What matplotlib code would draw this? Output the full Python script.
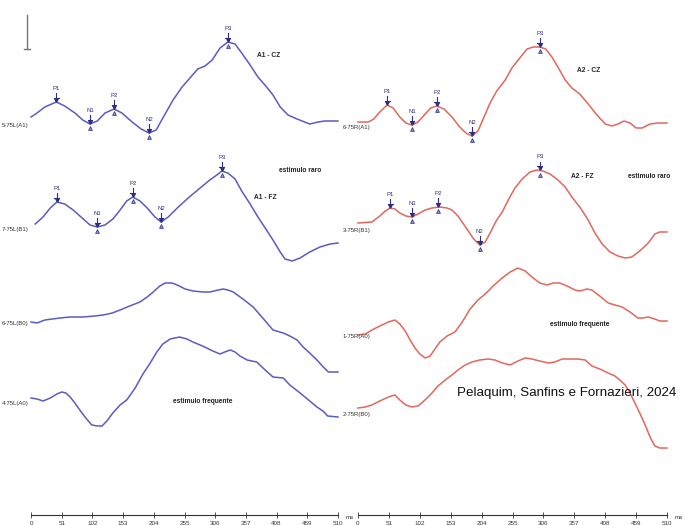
import numpy as np
import matplotlib
matplotlib.use("Agg")
from matplotlib import pyplot as plt

plt.rcParams['font.family'] = ['Liberation Sans', 'DejaVu Sans']

# latency axis (ms)
tick_ms = [0, 51, 102, 153, 204, 255, 306, 357, 408, 459, 510]

# ---- left ear (blue) ----
l1_ms = [0, 10, 23, 42, 56, 73, 86, 98, 110, 123, 138, 151, 168, 183, 196, 208, 219, 236, 251, 264,
         277, 289, 301, 314, 327, 339, 350, 364, 377, 390, 402, 414, 427, 442, 463, 477, 488, 510]
l1_amp = [1.6, 2.4, 3.6, 4.6, 3.8, 2.4, 1.0, 0.2, 0.8, 2.4, 3.2, 2.4, 0.6, -0.8, -1.6, -1.0, 1.4, 5.0, 7.6, 9.4,
          11.2, 11.8, 13.0, 15.4, 16.6, 16.2, 14.4, 12.0, 9.6, 7.8, 6.0, 3.6, 2.0, 1.2, 0.2, 0.6, 0.8, 0.8]

l2_ms = [7, 20, 32, 43, 56, 70, 85, 98, 110, 123, 136, 148, 159, 169, 181, 193, 206, 216, 228, 243,
         261, 281, 297, 311, 317, 327, 339, 350, 364, 377, 389, 402, 414, 422, 434, 447, 463, 480, 497, 510]
l2_amp = [1.0, 2.4, 4.2, 5.4, 5.0, 3.8, 2.2, 0.8, 0.4, 0.8, 2.0, 3.8, 5.6, 6.4, 5.6, 4.2, 2.4, 1.4, 2.4, 4.2,
          6.2, 8.2, 9.8, 11.0, 11.6, 11.2, 10.0, 7.6, 5.0, 2.4, 0.2, -2.2, -4.6, -6.0, -6.4, -5.8, -4.6, -3.6, -3.0, -2.8]

l3_ms = [0, 10, 23, 48, 65, 86, 106, 120, 135, 148, 164, 181, 193, 203, 214, 223, 234, 243, 256, 269,
         286, 297, 311, 319, 327, 336, 352, 369, 385, 402, 419, 430, 442, 452, 463, 475, 484, 494, 510]
l3_amp = [0.2, 0.0, 0.6, 1.0, 1.2, 1.2, 1.4, 1.6, 2.0, 2.6, 3.4, 4.2, 5.2, 6.2, 7.4, 8.0, 8.0, 7.6, 6.8, 6.4,
          6.2, 6.2, 6.6, 6.8, 6.6, 6.2, 4.8, 3.2, 1.0, -1.4, -2.0, -2.6, -3.4, -4.8, -6.0, -7.4, -8.6, -9.8, -9.8]

l4_ms = [0, 10, 20, 32, 43, 51, 58, 65, 73, 81, 91, 101, 110, 118, 126, 136, 148, 159, 173, 186,
         198, 209, 219, 231, 247, 259, 269, 281, 292, 302, 314, 322, 331, 339, 347, 359, 375, 389, 402, 419,
         430, 447, 463, 475, 485, 493, 510]
l4_amp = [1.0, 0.8, 0.4, 1.0, 1.8, 2.2, 2.0, 1.2, 0.0, -1.4, -3.0, -4.4, -4.6, -4.6, -3.6, -2.0, -0.4, 0.6, 3.0, 5.8,
          8.0, 10.2, 11.8, 12.8, 13.2, 12.8, 12.2, 11.6, 11.0, 10.4, 9.8, 10.2, 10.6, 10.2, 9.4, 8.6, 8.2, 6.6, 5.2, 5.0,
          3.6, 2.0, 0.4, -0.8, -1.6, -2.6, -2.8]

# ---- right ear (red) ----
r1_ms = [0, 17, 26, 36, 48, 58, 69, 79, 89, 99, 111, 120, 130, 142, 155, 168, 178, 188, 198, 208,
         218, 229, 243, 254, 267, 279, 289, 300, 310, 320, 330, 342, 353, 366, 380, 393, 408, 419, 429, 439,
         449, 459, 469, 482, 495, 510]
r1_amp = [1.0, 1.0, 1.6, 3.0, 4.4, 3.8, 2.0, 0.8, 0.4, 1.0, 2.6, 3.8, 4.2, 3.6, 2.0, 0.0, -1.2, -1.8, -0.8, 2.0,
          4.8, 7.2, 9.4, 11.8, 13.8, 15.6, 16.0, 16.0, 15.6, 14.0, 12.0, 9.4, 7.8, 6.6, 4.6, 2.6, 0.6, 0.2, 0.6, 1.2,
          0.8, -0.2, -0.2, 0.6, 0.8, 0.8]

r2_ms = [0, 23, 36, 45, 53, 61, 69, 79, 89, 99, 111, 122, 135, 147, 155, 165, 173, 182, 191, 201,
         210, 218, 228, 238, 248, 259, 271, 284, 295, 305, 317, 330, 342, 353, 366, 380, 391, 403, 416, 429,
         441, 452, 465, 479, 490, 498, 510]
r2_amp = [1.4, 1.6, 2.8, 3.8, 4.4, 4.2, 3.4, 2.8, 2.6, 3.2, 4.0, 4.4, 4.6, 4.4, 4.0, 2.8, 1.4, -0.2, -1.8, -3.0,
          -2.4, -0.6, 1.8, 3.6, 6.0, 8.4, 10.2, 11.6, 12.0, 11.8, 11.2, 10.0, 8.6, 6.6, 4.6, 2.0, -0.6, -2.8, -4.4, -5.2,
          -5.6, -5.4, -4.2, -2.6, -0.8, -0.4, -0.4]

r3_ms = [0, 12, 23, 36, 50, 61, 69, 78, 86, 94, 102, 111, 119, 127, 135, 147, 160, 172, 185, 198,
         210, 223, 238, 251, 264, 276, 287, 300, 312, 322, 333, 345, 358, 366, 378, 386, 399, 413, 424, 436,
         449, 462, 470, 479, 490, 498, 510]
r3_amp = [0.2, 0.4, 1.2, 2.0, 2.8, 3.2, 2.4, 1.0, -0.8, -2.4, -3.6, -4.4, -4.0, -2.6, -1.2, 0.0, 0.8, 2.8, 5.4, 7.2,
          8.4, 10.0, 11.6, 12.8, 13.6, 13.0, 11.8, 10.6, 10.2, 10.6, 10.6, 10.0, 9.2, 9.0, 9.4, 9.2, 8.0, 6.6, 6.2, 5.8,
          4.8, 3.6, 3.6, 3.8, 3.4, 3.0, 3.0]

r4_ms = [0, 12, 23, 36, 50, 61, 69, 79, 89, 99, 107, 119, 132, 144, 155, 165, 177, 188, 201, 215,
         226, 238, 251, 264, 276, 287, 300, 314, 325, 337, 350, 363, 375, 386, 399, 413, 424, 432, 441, 449,
         457, 465, 474, 482, 490, 498, 510]
r4_amp = [1.2, 1.4, 1.8, 2.6, 3.4, 3.8, 2.8, 1.8, 1.4, 1.6, 2.4, 3.8, 5.6, 6.8, 7.8, 8.8, 9.8, 10.4, 10.8, 11.0,
          10.8, 10.2, 9.8, 10.6, 11.2, 11.0, 10.6, 10.2, 10.4, 11.0, 11.0, 11.0, 10.8, 9.6, 9.0, 8.2, 7.6, 6.8, 5.8, 4.2,
          2.2, 0.2, -2.2, -4.6, -6.4, -6.8, -6.8]

# peak markers
peak_names = ['P1', 'N1', 'P2', 'N2', 'P3']
l1_peaks = [42, 98, 138, 196, 327]
l2_peaks = [43, 110, 169, 216, 317]
r1_peaks = [48, 89, 130, 188, 300]
r2_peaks = [53, 89, 132, 201, 300]

left_labels = ['5-75L(A1)', '7-75L(B1)', '6-75L(B0)', '4-75L(A0)']
right_labels = ['6-75R(A1)', '3-75R(B1)', '1-75R(A0)', '2-75R(B0)']

W, H = 689, 525
PX = 5.0  # pixels per amplitude unit
BLUE = '#5b5bc4'
RED = '#e2675c'
NAVY = '#2c2f86'

fig = plt.figure(figsize=(W / 100, H / 100), dpi=100)
fig.patch.set_facecolor('white')


def make_panel(x0, x1):
    ax = fig.add_axes([x0 / W, 10 / H, (x1 - x0) / W, (H - 10) / H])
    ax.set_xlim(0, 510)
    ax.set_ylim(-(H - 10) / PX, 0)
    for s in ['top', 'left', 'right']:
        ax.spines[s].set_visible(False)
    ax.spines['bottom'].set_color('#333333')
    ax.spines['bottom'].set_linewidth(0.8)
    ax.set_yticks([])
    ax.set_xticks(tick_ms)
    ax.set_xticklabels([str(t) for t in tick_ms], fontsize=4.5, color='#333333')
    ax.tick_params(axis='x', direction='inout', length=4, width=0.6, pad=2, colors='#333333')
    ax.patch.set_alpha(0)
    ax.text(522, -(H - 10) / PX, 'ms', fontsize=4.5, color='#333333', va='top', clip_on=False)
    return ax


def draw_trace(ax, ms, amp, base, color, label, label_x):
    base_y = -base / PX
    ax.plot(ms, np.array(amp) + base_y, color=color, lw=1.1, clip_on=False, solid_joinstyle='round')
    ax.text(label_x, base_y, label, fontsize=4.3, color='#333333', va='center', ha='left', clip_on=False)


def draw_peaks(ax, ms, amp, base, lats):
    base_y = -base / PX
    for name, lat in zip(peak_names, lats):
        y = np.interp(lat, ms, amp) + base_y
        ax.text(lat, y + 14 / PX, name, fontsize=4.3, color=NAVY, ha='center', va='center')
        ax.plot([lat, lat], [y + 9 / PX, y + 2 / PX], color=NAVY, lw=0.8)
        ax.plot(lat, y + 2.5 / PX, marker='v', ms=2.5, color=NAVY, mec=NAVY)
        ax.plot([lat - 4, lat + 4], [y + 4.5 / PX] * 2, color=NAVY, lw=0.8)
        if name != 'P1':
            ax.plot(lat, y - 4 / PX, marker='^', ms=2.8, color=NAVY, mfc='#8c90c8', mec=NAVY, mew=0.5)


axl = make_panel(31, 338)
axr = make_panel(358, 667)

left_ms = [l1_ms, l2_ms, l3_ms, l4_ms]
left_amp = [l1_amp, l2_amp, l3_amp, l4_amp]
left_base = [125, 229, 323, 403]
for ms, amp, base, lab in zip(left_ms, left_amp, left_base, left_labels):
    draw_trace(axl, ms, amp, base, BLUE, lab, -48)
draw_peaks(axl, l1_ms, l1_amp, 125, l1_peaks)
draw_peaks(axl, l2_ms, l2_amp, 229, l2_peaks)

right_ms = [r1_ms, r2_ms, r3_ms, r4_ms]
right_amp = [r1_amp, r2_amp, r3_amp, r4_amp]
right_base = [127, 230, 336, 414]
for ms, amp, base, lab in zip(right_ms, right_amp, right_base, right_labels):
    draw_trace(axr, ms, amp, base, RED, lab, -25)
draw_peaks(axr, r1_ms, r1_amp, 127, r1_peaks)
draw_peaks(axr, r2_ms, r2_amp, 230, r2_peaks)

# scale bar
axl.plot([-6.6, -6.6], [-15 / PX, -49 / PX], color='#777777', lw=1.0, clip_on=False)
axl.plot([-11, -1.5], [-49 / PX, -49 / PX], color='#777777', lw=1.0, clip_on=False)

# annotations
txt = dict(fontsize=4.8, color='#222222', ha='center', va='center', fontweight='bold')
axl.text(394, -55 / PX, 'A1 - CZ', **txt)
axl.text(447, -170 / PX, 'estimulo raro', **txt)
axl.text(390, -197 / PX, 'A1 - FZ', **txt)
axl.text(286, -401 / PX, 'estimulo frequente', **txt)
axr.text(380, -70 / PX, 'A2 - CZ', **txt)
axr.text(371, -176 / PX, 'A2 - FZ', **txt)
axr.text(480, -176 / PX, 'estimulo raro', **txt)
axr.text(366, -324 / PX, 'estimulo frequente', **txt)

fig.text(567 / W, 1 - 393 / H, 'Pelaquim, Sanfins e Fornazieri, 2024', fontsize=9.6,
         color='#111111', ha='center', va='center')

fig.savefig('out.png', dpi=100)
